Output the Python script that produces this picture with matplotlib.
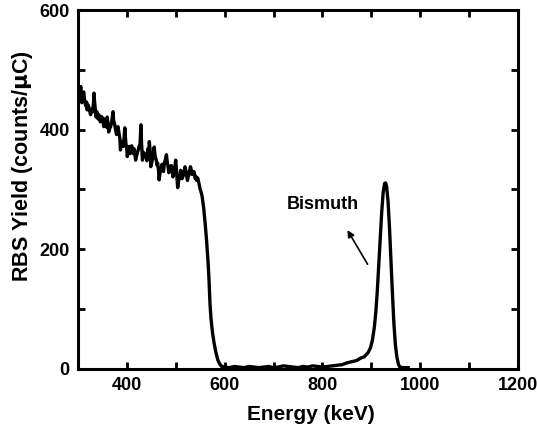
import matplotlib
matplotlib.use('Agg')
import matplotlib.pyplot as plt
from matplotlib.ticker import MultipleLocator

# RBS spectrum
energy = [300, 301, 302, 303, 304, 306, 308, 310, 312, 314, 316, 318, 319, 321, 323, 325,
          326, 328, 330, 332, 333, 334, 335, 337, 339, 341, 343, 346, 348, 350, 352, 353,
          355, 357, 359, 360, 362, 363, 365, 367, 369, 372, 373, 375, 377, 379, 381, 382,
          384, 386, 387, 389, 391, 393, 396, 397, 398, 400, 401, 403, 405, 407, 408, 410,
          413, 415, 418, 420, 423, 425, 427, 429, 430, 432, 434, 436, 439, 441, 443, 445,
          446, 448, 449, 451, 453, 455, 456, 458, 460, 462, 463, 465, 466, 468, 470, 472,
          473, 475, 477, 479, 481, 483, 484, 486, 487, 489, 491, 493, 494, 496, 497, 499,
          500, 502, 504, 506, 508, 510, 511, 513, 515, 517, 519, 521, 522, 524, 525, 527,
          528, 530, 531, 533, 535, 537, 538, 540, 541, 543, 545, 547, 548, 550, 551, 553,
          554, 557, 560, 563, 566, 568, 570, 572, 575, 578, 582, 586, 590, 594, 600, 610,
          620, 630, 640, 650, 660, 670, 680, 690, 700, 710, 720, 730, 740, 750, 760, 770,
          780, 790, 800, 810, 820, 830, 840, 850, 860, 870, 878, 885, 893, 898, 902, 906,
          909, 912, 915, 918, 921, 924, 927, 929, 931, 934, 937, 940, 943, 946, 949, 952,
          955, 958, 965, 975]
yield_counts = [483, 462, 470, 455, 461, 472, 445, 458, 463, 448, 440, 446, 433, 441, 436, 428,
                425, 434, 430, 445, 461, 448, 440, 421, 430, 418, 425, 413, 422, 420, 410, 405,
                418, 412, 404, 421, 408, 396, 402, 405, 412, 430, 415, 410, 400, 392, 398, 405,
                395, 384, 366, 376, 380, 372, 403, 390, 378, 368, 355, 365, 372, 360, 366, 373,
                360, 368, 349, 356, 365, 372, 375, 408, 380, 349, 362, 360, 355, 348, 368, 358,
                380, 362, 338, 345, 352, 364, 371, 355, 350, 340, 344, 330, 316, 328, 335, 342,
                338, 330, 345, 350, 358, 344, 340, 328, 333, 338, 340, 332, 321, 326, 330, 342,
                349, 325, 303, 315, 320, 332, 328, 318, 322, 330, 338, 330, 325, 315, 319, 328,
                330, 338, 336, 325, 325, 330, 328, 318, 322, 315, 319, 312, 308, 300, 298, 292,
                288, 270, 245, 215, 180, 150, 110, 85, 62, 45, 28, 15, 8, 4, 3, 2,
                4, 3, 2, 4, 3, 2, 3, 4, 2, 3, 5, 4, 3, 2, 4, 3,
                5, 4, 3, 4, 5, 6, 7, 10, 12, 14, 18, 20, 27, 35, 48, 70,
                95, 130, 175, 221, 262, 295, 310, 311, 305, 280, 235, 180, 125, 75, 40, 20,
                8, 3, 2, 2]

plt.rcParams['font.family'] = ['Liberation Sans', 'DejaVu Sans']
plt.rcParams['font.weight'] = 'bold'

fig = plt.figure(figsize=(5.37, 4.36), dpi=100)
ax = fig.add_axes([0.145, 0.154, 0.82, 0.823])
ax.plot(energy, yield_counts, color='black', linewidth=2.4)

ax.set_xlim(300, 1200)
ax.set_ylim(0, 600)
ax.xaxis.set_major_locator(MultipleLocator(200))
ax.xaxis.set_minor_locator(MultipleLocator(100))
ax.yaxis.set_major_locator(MultipleLocator(200))
ax.yaxis.set_minor_locator(MultipleLocator(100))
ax.tick_params(which='both', direction='in', top=True, right=True, length=5, width=2)
ax.tick_params(which='major', labelsize=13, pad=6)
for lab in ax.get_xticklabels() + ax.get_yticklabels():
    lab.set_fontweight('bold')
for sp in ax.spines.values():
    sp.set_linewidth(2.2)

ax.set_xlabel('Energy (keV)', fontsize=15, fontweight='bold')
ax.set_ylabel('RBS Yield (counts/$\\mathbf{\\mu}$C)', fontsize=15.5, fontweight='bold')
ax.xaxis.set_label_coords(0.53, -0.1)
ax.yaxis.set_label_coords(-0.098, 0.565)

ax.annotate('', xy=(848, 236), xytext=(895, 171),
            arrowprops=dict(arrowstyle='-|>', color='black', lw=1.2, mutation_scale=10))
ax.text(801, 274, 'Bismuth', fontsize=13, fontweight='bold', ha='center', va='center')

fig.savefig('out.png', dpi=100)
